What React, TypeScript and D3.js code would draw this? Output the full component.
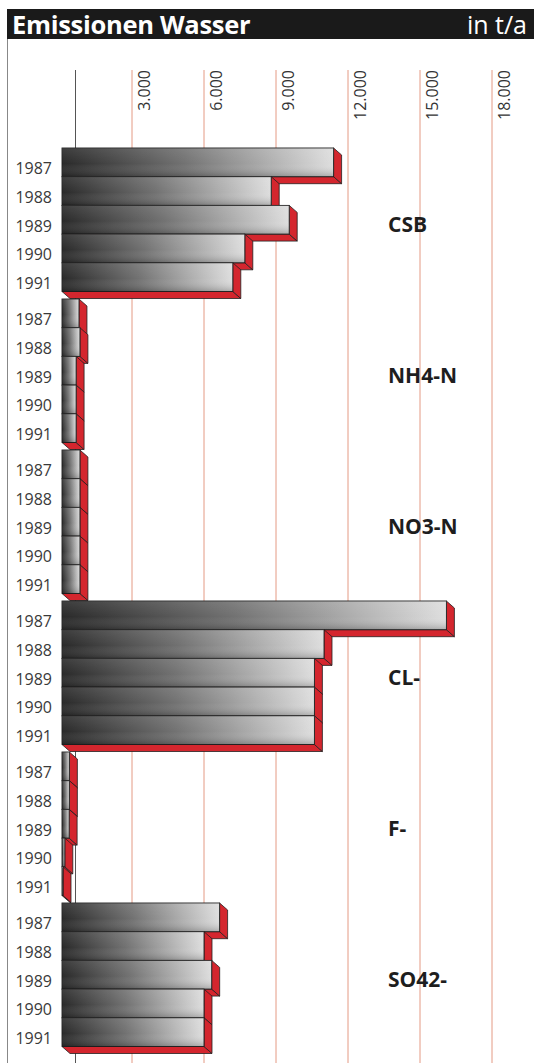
import React from "react";
import * as d3 from "d3";

const groups = ["CSB", "NH4-N", "NO3-N", "CL-", "F-", "SO42-"];
const years = ["1987", "1988", "1989", "1990", "1991"];
const csb = [11400, 8800, 9550, 7700, 7200];
const nh4n = [790, 830, 670, 670, 670];
const no3n = [830, 830, 830, 830, 830];
const cl = [16100, 11000, 10600, 10600, 10600];
const fluor = [390, 390, 380, 200, 60];
const so42 = [6650, 6000, 6320, 6000, 6000];
const tickValues = [3000, 6000, 9000, 12000, 15000, 18000];
const title = "Emissionen Wasser";
const unit = "in t/a";

const seriesByGroup = [csb, nh4n, no3n, cl, fluor, so42];

const W = 534;
const H = 1063;
const DX = 8;
const DY = 7;
const FONT = "'Open Sans', 'Noto Sans', sans-serif";

const fmt = d3.formatLocale({ decimal: ",", thousands: ".", grouping: [3], currency: ["", " €"] }).format(",.0f");

export default function App() {
  const x = d3.scaleLinear().domain([0, 18000]).range([60, 492]);
  const gy = d3.scaleBand<string>().domain(groups).range([148, 148 + 151 * groups.length]).paddingInner(0).paddingOuter(0);
  const groupH = 143.5;
  const by = d3.scaleBand<string>().domain(years).range([0, groupH]).padding(0);
  const h = by.bandwidth();
  const x0 = x(0) + 2;

  return (
    <svg width={W} height={H} style={{ position: "absolute", left: 0, top: 0, background: "#fff" }}>
      <defs>
        <linearGradient id="front" x1="0" y1="0" x2="1" y2="0">
          <stop offset="0%" stopColor="#2a2a2a" />
          <stop offset="45%" stopColor="#727272" />
          <stop offset="100%" stopColor="#dedede" />
        </linearGradient>
        <linearGradient id="shade" x1="0" y1="0" x2="0" y2="1">
          <stop offset="0%" stopColor="#ffffff" stopOpacity={0.1} />
          <stop offset="55%" stopColor="#ffffff" stopOpacity={0} />
          <stop offset="100%" stopColor="#000000" stopOpacity={0.22} />
        </linearGradient>
      </defs>

      {/* header */}
      <rect x={7} y={9} width={W - 7} height={30} fill="#1a1a1a" />
      <text x={12} y={34} fill="#fff" fontFamily={FONT} fontWeight={700} fontSize={25.5} letterSpacing={-0.3}>{title}</text>
      <text x={527} y={34} fill="#fff" fontFamily={FONT} fontWeight={400} fontSize={25} textAnchor="end">{unit}</text>
      <line x1={7.5} x2={7.5} y1={39} y2={H} stroke="#888" strokeWidth={1} />

      {/* gridlines */}
      {tickValues.map((t) => (
        <g key={t}>
          <line x1={x(t)} x2={x(t)} y1={70} y2={H} stroke="#e49a84" strokeWidth={1} />
          <text
            transform={`translate(${x(t) + 18},70) rotate(-90)`}
            textAnchor="end"
            fontFamily={FONT}
            fontSize={16}
            fill="#333"
          >
            {fmt(t)}
          </text>
        </g>
      ))}
      <line x1={75.5} x2={75.5} y1={70} y2={H} stroke="#555" strokeWidth={1} />

      {/* bars */}
      {groups.map((g, gi) => {
        const top = gy(g) as number;
        const vals = seriesByGroup[gi];
        return (
          <g key={g}>
            {years.map((yr, i) => {
              const y = top + (by(yr) as number);
              const xr = Math.max(x(vals[i]), x0 + 1);
              const bottom = `M${x0},${y + h} L${xr},${y + h} L${xr + DX},${y + h + DY} L${x0 + DX},${y + h + DY} Z`;
              const side = `M${xr},${y} L${xr + DX},${y + DY} L${xr + DX},${y + h + DY} L${xr},${y + h} Z`;
              return (
                <g key={yr}>
                  <path d={bottom} fill="#d4262e" stroke="#222" strokeWidth={0.8} strokeLinejoin="round" />
                  <path d={side} fill="#d4262e" stroke="#222" strokeWidth={0.8} strokeLinejoin="round" />
                  <rect x={x0} y={y} width={xr - x0} height={h} fill="url(#front)" stroke="#1e1e1e" strokeWidth={0.9} />
                  <rect x={x0} y={y} width={xr - x0} height={h} fill="url(#shade)" />
                </g>
              );
            })}
            {years.map((yr) => (
              <text
                key={"l" + yr}
                x={52}
                y={top + (by(yr) as number) + h / 2 + 12}
                textAnchor="end"
                fontFamily={FONT}
                fontSize={16}
                fill="#3a3a3a"
              >
                {yr}
              </text>
            ))}
            <text x={388} y={top + groupH / 2 + 12} fontFamily={FONT} fontWeight={700} fontSize={21} fill="#1e1e1e">
              {g}
            </text>
          </g>
        );
      })}
    </svg>
  );
}
